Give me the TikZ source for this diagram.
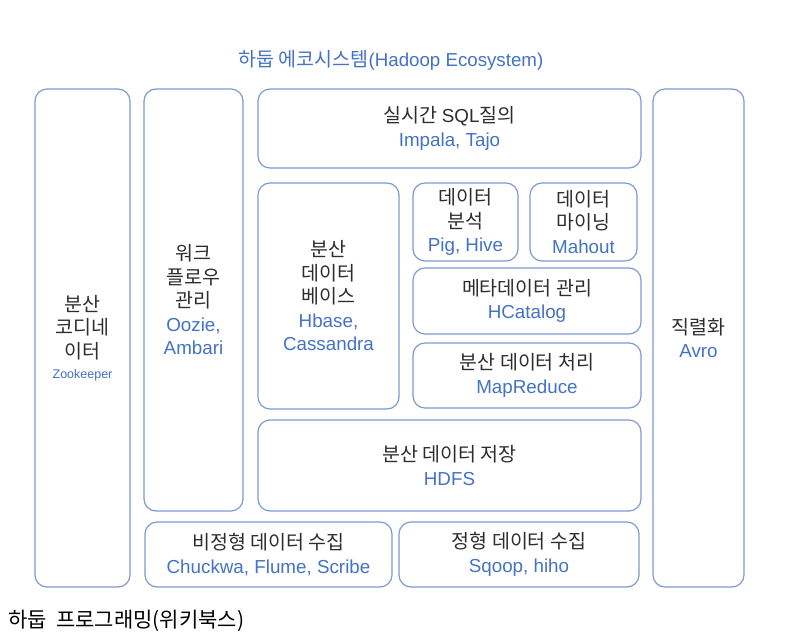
\documentclass[tikz,border=0pt]{standalone}
\usepackage{fontspec}
\setmainfont{Liberation Sans}
\newfontfamily\kr{Noto Sans CJK KR}
\newfontfamily\lat{Liberation Sans}
\definecolor{boxc}{RGB}{125,155,208}
\definecolor{blu}{RGB}{68,114,196}
\definecolor{txt}{RGB}{45,45,45}
\newcommand\bl[1]{{\color{blu}\lat\fontsize{18.8}{23}\selectfont #1}}
\tikzset{
  box/.style={draw=boxc, line width=1.2pt, rounded corners=12pt, align=center,
    inner sep=0pt, text=txt, font=\kr\fontsize{19.5}{23.5}\selectfont},
}
\newcommand\mybox[6]{%
  \node[box, minimum width={(#4-#2)*1pt}, minimum height={(#5-#3)*1pt}]
    (#1) at ({(#2+#4)/2*1pt},{-(#3+#5)/2*1pt}) {#6};}
\begin{document}
\begin{tikzpicture}
\useasboundingbox[fill=white] (0,0) rectangle (792pt,-643pt);
\node[font=\fontsize{18.7}{22}\selectfont, text=blu] (title) at (391pt,-60pt)
  {{\kr\fontsize{19.5}{22}\selectfont 하둡 에코시스템}(Hadoop Ecosystem)};
\mybox{zoo}{35}{89}{130}{587}{분산\\코디네\\이터\\[-3pt]{\color{blu}\lat\fontsize{12.5}{14}\selectfont Zookeeper}}
\mybox{wf}{144}{89}{243}{511}{워크\\플로우\\관리\\\bl{Oozie,}\\\bl{Ambari}}
\mybox{sql}{258}{89}{641}{168}{실시간 {\lat\fontsize{18.8}{23}\selectfont SQL}질의\\\bl{Impala, Tajo}}
\mybox{db}{258}{183}{399}{409}{분산\\데이터\\베이스\\\bl{Hbase,}\\\bl{Cassandra}}
\mybox{ana}{413}{183}{518}{261}{\fontsize{19.5}{22.5}\selectfont 데이터\\분석\\\bl{Pig, Hive}}
\mybox{min}{530}{183}{637}{261}{\fontsize{19.5}{22.5}\selectfont 데이터\\마이닝\\\bl{Mahout}}
\mybox{meta}{413}{268}{641}{334}{메타데이터 관리\\\bl{HCatalog}}
\mybox{mr}{413}{343}{641}{408}{분산 데이터 처리\\\bl{MapReduce}}
\mybox{hdfs}{258}{420}{641}{511}{분산 데이터 저장\\\bl{HDFS}}
\mybox{unst}{145}{522}{392}{587}{비정형 데이터 수집\\\bl{Chuckwa, Flume, Scribe}}
\mybox{st}{399}{522}{639}{587}{정형 데이터 수집\\\bl{Sqoop, hiho}}
\mybox{avro}{653}{89}{744}{587}{직렬화\\\bl{Avro}}
\node[anchor=west, inner sep=0pt, font=\kr\fontsize{21}{24}\selectfont] (cap) at (8pt,-621pt)
  {하둡 \ 프로그래밍(위키북스)};
\end{tikzpicture}
\end{document}
